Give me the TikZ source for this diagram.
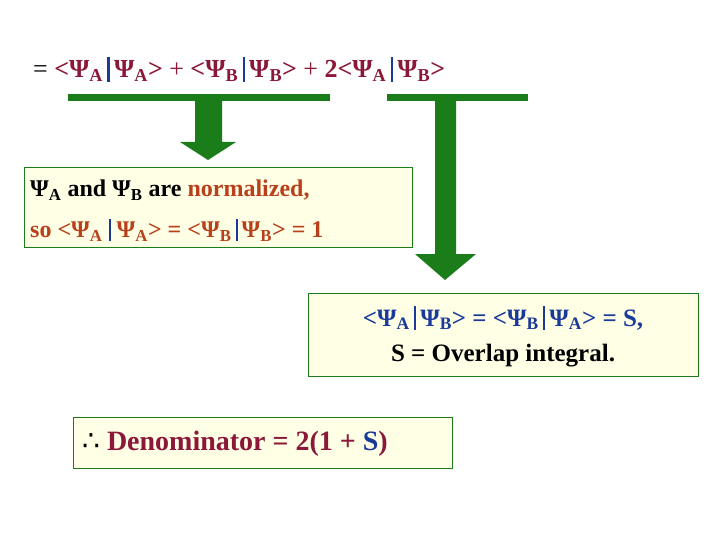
\documentclass[tikz,border=0pt]{standalone}
\usepackage{fontspec}
\setmainfont{Liberation Serif}
\newfontfamily\dvfont{DejaVu Sans}
\definecolor{mar}{HTML}{8B1838}
\definecolor{bl}{HTML}{1A3A9A}
\definecolor{org}{HTML}{B8401A}
\definecolor{gr}{HTML}{1A7D1A}
\definecolor{cream}{HTML}{FFFFE6}
\newcommand{\Ps}{\char"03A8}
\newcommand{\sbs}[1]{\textsubscript{#1}}
\newcommand{\bk}{{\color{bl}\raisebox{-0.15em}{\rule{0.09em}{0.95em}}}}
\newcommand{\brk}[2]{<\Ps\sbs{#1}\,\bk\,\Ps\sbs{#2}>}
\begin{document}
\begin{tikzpicture}[x=1pt,y=-1pt,
  box/.style={draw=gr,line width=0.8pt,fill=cream,anchor=north west,inner sep=0pt},
  txt/.style={font=\bfseries,anchor=west,inner sep=0pt}]
\useasboundingbox (0,0) rectangle (720,540);
\fill[white] (0,0) rectangle (720,540);
\node[txt,anchor=base west,font=\bfseries\fontsize{26}{28}\selectfont] (eq) at (33,78)
 {\mdseries =\ \bfseries\color{mar}\brk AA\ \mdseries+\ \bfseries\brk BB\ \mdseries+\ \bfseries 2\brk AB};
% bars and arrows
\fill[gr] (68,94) rectangle (330,101);
\fill[gr] (195,101) -- (222,101) -- (222,142) -- (236,142) -- (208,160) -- (180,142) -- (195,142) -- cycle;
\fill[gr] (387,94) rectangle (528,101);
\fill[gr] (435,101) -- (456,101) -- (456,254) -- (476,254) -- (445,280) -- (415,254) -- (435,254) -- cycle;
% box1
\path[box] (24,167) rectangle (412,247);
\node[txt,font=\bfseries\fontsize{24}{28}\selectfont] (b1a) at (30,190)
 {\Ps\sbs{A} and \Ps\sbs{B} are {\color{org}normalized,}};
\node[txt,font=\bfseries\fontsize{24}{28}\selectfont,color=org] (b1b) at (30,230)
 {so <\Ps\sbs{A} \bk{} \Ps\sbs{A}> = <\Ps\sbs{B}\,\bk\,\Ps\sbs{B}> = 1};
% box2
\path[box] (308,293) rectangle (698,376);
\node[inner sep=0pt,font=\bfseries\fontsize{25}{28}\selectfont,color=bl] (b2a) at (503,318)
 {\brk AB = \brk BA = S,};
\node[inner sep=0pt,font=\bfseries\fontsize{25}{28}\selectfont] (b2b) at (503,356) {S = Overlap integral.};
% box3
\path[box] (73,417) rectangle (452,468);
\node[txt,font=\bfseries\fontsize{28}{30}\selectfont,color=mar] (b3) at (82,444)
 {{\dvfont\mdseries\color{black}\char"2234}\ Denominator = 2(1 + {\color{bl}S})};
\end{tikzpicture}
\end{document}
